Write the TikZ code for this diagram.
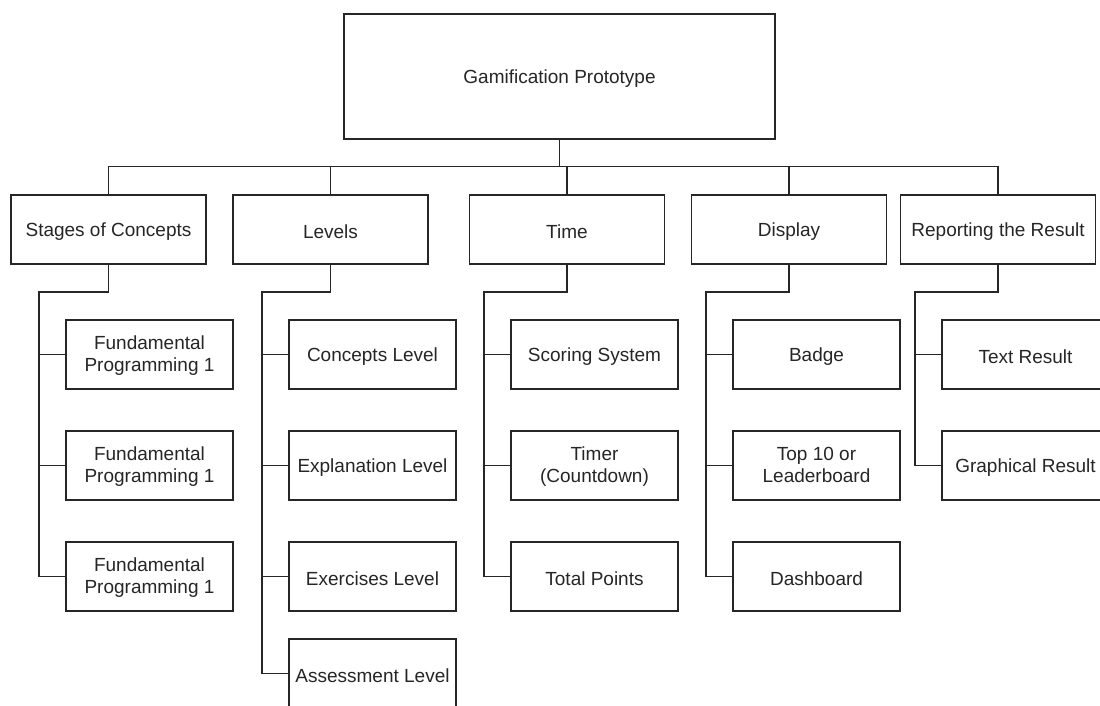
\documentclass[tikz,border=0pt]{standalone}
\usepackage{fontspec}
\setmainfont{Liberation Sans}
% fixed line box so every label sits at the same height in its box
\newcommand{\labelstrut}{\rule[-0.4pt]{0pt}{19pt}}
\begin{document}
\begin{tikzpicture}[x=1pt,y=-1pt,
  box/.style={draw=black!85, line width=1.3pt, fill=white, align=center,
    minimum width=167pt, minimum height=69pt, inner sep=0pt,
    font=\fontsize{19}{22}\selectfont, text=black!85,
    execute at begin node=\labelstrut, execute at end node=\labelstrut},
  twoline/.style={execute at begin node={\rule[-4pt]{0pt}{42pt}}},
  headbox/.style={box, minimum width=195pt},
  rootbox/.style={box, minimum width=431pt, minimum height=125pt},
  conn/.style={draw=black!85, line width=1.6pt}]
\useasboundingbox (0,0) rectangle (1100,706);
\clip (0,0) rectangle (1100,706);

% root
\node[rootbox] (root) at (559.5,76.5) {Gamification Prototype};

% second level
\node[headbox] (s) at (108.5,229.5) {Stages of Concepts};
\node[headbox] (l) at (330.5,229.5) {Levels};
\node[headbox] (t) at (567,229.5) {Time};
\node[headbox] (d) at (789,229.5) {Display};
\node[headbox] (r) at (998,229.5) {Reporting the Result};

% stages of concepts
\node[box,twoline] (s1) at (149.5,354.5) {Fundamental\\Programming 1};
\node[box,twoline] (s2) at (149.5,465.5) {Fundamental\\Programming 1};
\node[box,twoline] (s3) at (149.5,576.5) {Fundamental\\Programming 1};

% levels
\node[box] (l1) at (372.5,354.5) {Concepts Level};
\node[box] (l2) at (372.5,465.5) {Explanation Level};
\node[box] (l3) at (372.5,576.5) {Exercises Level};
\node[box] (l4) at (372.5,673.5) {Assessment Level};

% time
\node[box] (t1) at (594.5,354.5) {Scoring System};
\node[box,twoline] (t2) at (594.5,465.5) {Timer\\(Countdown)};
\node[box] (t3) at (594.5,576.5) {Total Points};

% display
\node[box] (d1) at (816.5,354.5) {Badge};
\node[box,twoline] (d2) at (816.5,465.5) {Top 10 or\\Leaderboard};
\node[box] (d3) at (816.5,576.5) {Dashboard};

% reporting
\node[box] (r1) at (1025.5,354.5) {Text Result};
\node[box] (r2) at (1025.5,465.5) {Graphical Result};

% root to second level
\coordinate (bus) at (559.5,166.5);
\draw[conn] (root.south) -- (bus);
\draw[conn] (s.north) |- (bus) -| (r.north);
\draw[conn] (l.north) -- (l.north |- bus);
\draw[conn] (t.north) -- (t.north |- bus);
\draw[conn] (d.north) -- (d.north |- bus);

% group spines
\coordinate (sv) at (39,292);
\coordinate (lv) at (262,292);
\coordinate (tv) at (484,292);
\coordinate (dv) at (706,292);
\coordinate (rv) at (915,292);

\draw[conn] (s.south) |- (sv) |- (s3.west);
\draw[conn] (sv |- s1.west) -- (s1.west);
\draw[conn] (sv |- s2.west) -- (s2.west);

\draw[conn] (l.south) |- (lv) |- (l4.west);
\draw[conn] (lv |- l1.west) -- (l1.west);
\draw[conn] (lv |- l2.west) -- (l2.west);
\draw[conn] (lv |- l3.west) -- (l3.west);

\draw[conn] (t.south) |- (tv) |- (t3.west);
\draw[conn] (tv |- t1.west) -- (t1.west);
\draw[conn] (tv |- t2.west) -- (t2.west);

\draw[conn] (d.south) |- (dv) |- (d3.west);
\draw[conn] (dv |- d1.west) -- (d1.west);
\draw[conn] (dv |- d2.west) -- (d2.west);

\draw[conn] (r.south) |- (rv) |- (r2.west);
\draw[conn] (rv |- r1.west) -- (r1.west);
\end{tikzpicture}
\end{document}
